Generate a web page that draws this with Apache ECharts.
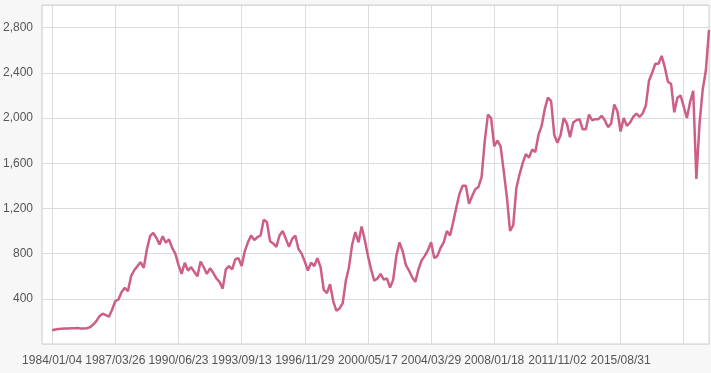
<!DOCTYPE html>
<html><head><meta charset="utf-8">
<script src="https://cdn.jsdelivr.net/npm/echarts@6/dist/echarts.min.js"></script>
<style>html,body{margin:0;padding:0;background:#f7f7f7}#c{width:711px;height:373px}</style>
</head><body><div id="c"></div>
<script>
// tick labels (dates) and their sample positions
const tickLabels = ['1984/01/04','1987/03/26','1990/06/23','1993/09/13','1996/11/29','2000/05/17','2004/03/29','2008/01/18','2011/11/02','2015/08/31'];
const labelIdx = [0,20,40,60,80,100,120,140,160,180];
const gridIdx = [0,20,40,60,80,100,120,140,160,180,200];
// index values, evenly spaced samples
const values = [
122,128,133,135,137,138,140,139,141,138,137,139,149,172,202,246,268,255,242,305,
379,394,460,497,467,600,653,689,724,674,836,954,984,940,880,954,896,925,851,800,
700,620,719,650,680,640,600,730,680,620,670,630,580,550,490,660,690,660,750,760,
690,820,900,960,920,945,960,1100,1080,910,890,860,960,1000,930,860,930,960,840,800,
730,650,720,690,760,680,480,450,530,380,295,315,360,560,680,880,990,900,1040,920,
780,660,560,580,620,570,580,500,570,780,900,820,700,650,590,550,660,740,780,830,
900,760,780,850,900,1000,960,1080,1210,1330,1400,1400,1240,1310,1370,1390,1480,1800,2030,2000,
1750,1800,1750,1530,1300,1000,1050,1380,1500,1600,1680,1650,1720,1700,1850,1930,2080,2180,2150,1850,
1780,1850,2000,1950,1830,1960,1980,1990,1900,1900,2030,1980,1990,1990,2020,1980,1920,1950,2120,2060,
1880,2000,1930,1960,2010,2040,2010,2040,2110,2330,2400,2480,2480,2550,2450,2320,2300,2050,2180,2200,
2100,2000,2140,2240,1460,1950,2250,2420,2780
];
const chart = echarts.init(document.getElementById('c'));
const fontFam = "'Liberation Sans Narrow','Liberation Sans',sans-serif";
chart.setOption({
  animation: false,
  backgroundColor: '#f7f7f7',
  grid: {left: 41, right: 2, top: 5, bottom: 29, show: true, backgroundColor: '#ffffff', borderColor: '#cccccc', borderWidth: 1},
  xAxis: {
    type: 'value', min: -3.2, max: 208,
    axisLine: {show: false},
    axisTick: {show: false, customValues: gridIdx},
    axisLabel: {customValues: labelIdx, color: '#555', fontSize: 12, fontFamily: fontFam, margin: 11,
      formatter: v => tickLabels[labelIdx.indexOf(v)] || ''},
    splitLine: {show: true, lineStyle: {color: '#dcdcdc', width: 1}}
  },
  yAxis: {
    type: 'value', min: 0, max: 3000, interval: 400,
    axisLine: {show: false}, axisTick: {show: false},
    axisLabel: {showMinLabel: false, showMaxLabel: false, color: '#555', fontSize: 12, fontFamily: fontFam, margin: 9,
      formatter: v => v.toLocaleString('en-US')},
    splitLine: {show: true, lineStyle: {color: '#dcdcdc', width: 1}}
  },
  series: [{
    type: 'line', showSymbol: false, symbol: 'none',
    data: values.map((v, i) => [i, v]),
    lineStyle: {color: '#cc5e87', width: 2.5},
    itemStyle: {color: '#cc5e87'}
  }]
});
</script></body></html>
